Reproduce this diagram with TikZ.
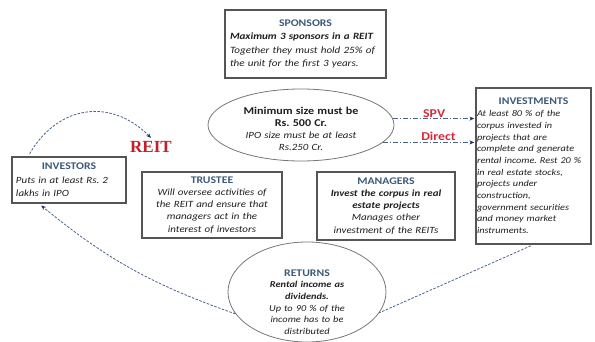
\documentclass[tikz,border=0pt]{standalone}
\usepackage{fontspec}
\setmainfont{Carlito}[FakeStretch=1.15]
\newfontfamily\reitfont{Liberation Serif}
\usetikzlibrary{shapes.geometric, arrows.meta, shadows}
\frenchspacing

\definecolor{headblue}{HTML}{3C5A7C}
\definecolor{boxline}{HTML}{555555}
\definecolor{flowblue}{HTML}{4B6284}
\definecolor{tipblue}{HTML}{1F3560}
\definecolor{reitred}{HTML}{C41E28}
\definecolor{labelred}{HTML}{D42A3C}

\newcommand\boxhead[1]{{\centering\fontsize{10.2}{13}\selectfont\bfseries\color{headblue}#1\par}}

\begin{document}
\begin{tikzpicture}[x=1pt, y=1pt, font=\fontsize{9.5}{13.3}\selectfont, text=black!88,
  box/.style={draw=boxline, line width=1.2pt, fill=white, rectangle, inner ysep=4pt,
    align=left, drop shadow={shadow xshift=1pt, shadow yshift=-1pt, opacity=0.3}},
  oval/.style={draw=boxline!80, line width=0.8pt, ellipse, fill=white, inner sep=0pt},
  flow/.style={draw=flowblue, line width=0.8pt, dash pattern=on 2.5pt off 1.5pt},
  route/.style={draw=flowblue, line width=0.9pt, dash pattern=on 5pt off 2pt on 1pt off 2pt},
  tip/.style={-{Stealth[length=5pt, width=4pt, color=tipblue]}},
  tag/.style={font=\fontsize{12}{14}\selectfont\bfseries, text=labelred, inner sep=1pt}]
  \useasboundingbox (0,0) rectangle (595,341);

  % boxes
  \node[box, text width=151pt, inner xsep=5pt, minimum height=68pt,
    font=\fontsize{9.6}{13.3}\selectfont] (sponsors) at (305.5,297)
    {\boxhead{SPONSORS}
     \textbf{\textit{Maximum 3 sponsors in a REIT}}\\
     \textit{Together they must hold 25\% of}\\
     \textit{the unit for the first 3 years.}};
  \node[box, text width=113pt, inner xsep=1pt, minimum height=156pt,
    font=\fontsize{8.9}{11.7}\selectfont] (investments) at (533.5,175)
    {\boxhead{INVESTMENTS}
     {\itshape At least 80 \% of the\\ corpus invested in\\ projects that are\\
      complete and generate\\ rental income. Rest 20 \%\\ in real estate stocks,\\
      projects under\\ construction,\\ government securities\\ and money market\\
      instruments.}};
  \node[box, text width=106pt, inner xsep=4pt, minimum height=46pt,
    font=\fontsize{9.5}{13.5}\selectfont] (investors) at (69,161)
    {\boxhead{INVESTORS}
     {\itshape Puts in at least Rs. 2\\ lakhs in IPO}};
  \node[box, text width=136pt, inner xsep=2pt, minimum height=66pt, align=center,
    font=\fontsize{9.5}{12.2}\selectfont] (trustee) at (212,136)
    {{\fontsize{10.2}{13}\selectfont\bfseries\color{headblue}TRUSTEE}\\
     \itshape Will oversee activities of\\ the REIT and ensure that\\
     managers act in the\\ interest of investors};
  \node[box, text width=134pt, inner xsep=2pt, minimum height=68pt, align=center,
    font=\fontsize{9.5}{12.2}\selectfont] (managers) at (386,135)
    {{\fontsize{10.2}{13}\selectfont\bfseries\color{headblue}MANAGERS}\\
     {\bfseries\itshape Invest the corpus in real\\ estate projects}\\
     \itshape Manages other\\ investment of the REITs};

  % ellipses
  \node[oval, minimum width=186pt, minimum height=72pt] (minsize) at (301,216) {};
  \node[align=center, text width=150pt, font=\fontsize{9.5}{12}\selectfont] (minsizetext) at (301,212)
    {{\fontsize{10.5}{12}\selectfont\bfseries Minimum size must be\\ Rs. 500 Cr.}\\
     \itshape IPO size must be at least\\ Rs.250 Cr.};
  \node[oval, minimum width=158pt, minimum height=100pt] (returns) at (307,49) {};
  \node[align=center, text width=120pt, font=\fontsize{9}{11.6}\selectfont] (returnstext) at (307,39)
    {{\fontsize{10.2}{11.6}\selectfont\bfseries\color{headblue}RETURNS}\\
     {\bfseries\itshape Rental income as\\ dividends.}\\
     \itshape Up to 90 \% of the\\ income has to be\\ distributed};

  \node[font=\reitfont\fontsize{17}{17}\selectfont\bfseries, text=reitred] (reit) at (151,194) {REIT};

  % connectors
  \draw[flow, tip, shorten <=3pt] (investors.150) to[out=60, in=135, looseness=1.2] (reit.north);
  \draw[flow, tip, shorten >=3pt] (returns.197) to[bend left=10] (investors.218);
  \draw[flow, shorten <=3pt] (investments.south) -- (returns.344);
  \draw[route, tip, shorten >=1pt] (minsize.4) -- node[tag, above] {SPV} (minsize.4 -| investments.west);
  \draw[route, tip, shorten >=1pt] (minsize.348) -- node[tag, above, pos=0.6] {Direct} (minsize.348 -| investments.west);
\end{tikzpicture}
\end{document}
